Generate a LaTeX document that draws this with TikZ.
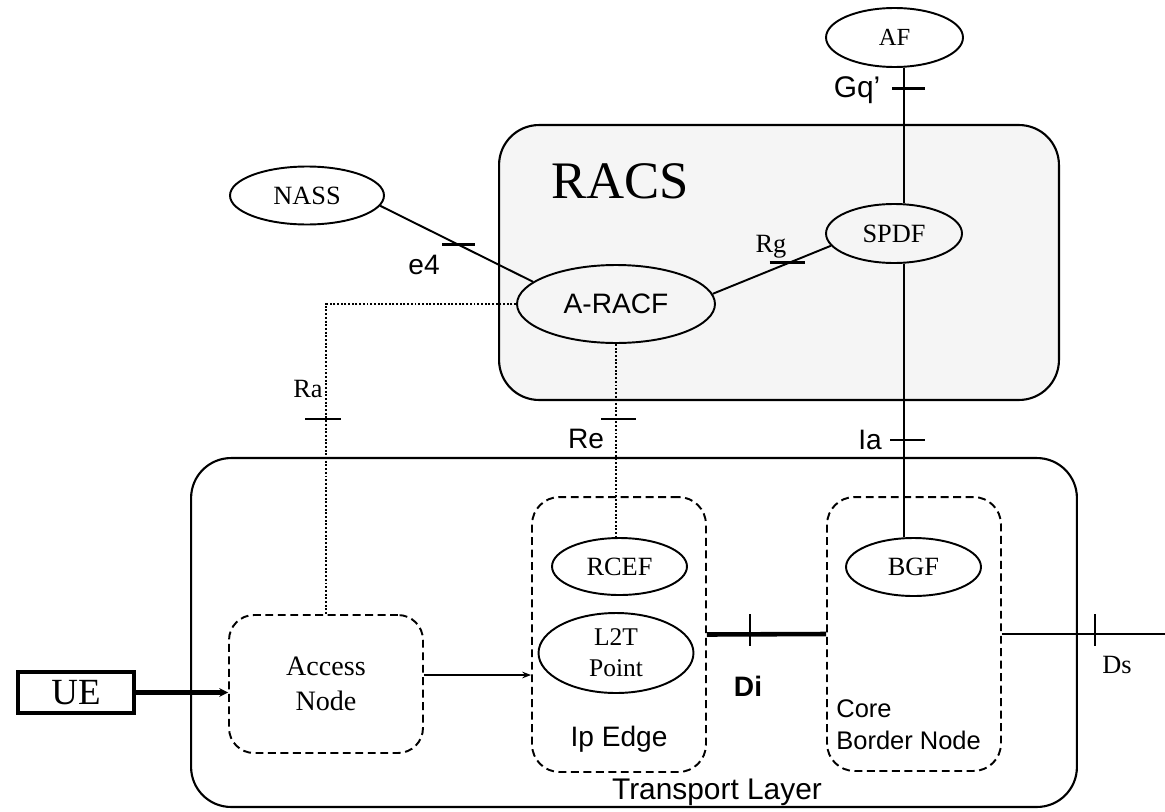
\documentclass[tikz,border=0pt]{standalone}
\usepackage{fontspec}
\setmainfont{Liberation Serif}
\setsansfont{Liberation Sans}
\usetikzlibrary{shapes.geometric, arrows.meta, positioning}
\begin{document}
\begin{tikzpicture}[x=0.02cm, y=-0.02cm,
    fn/.style={draw, ellipse, line width=1.1pt, inner sep=0pt, font=\fontsize{15}{17.5}\selectfont},
    area/.style={draw, rounded corners=0.8cm, line width=1.2pt, inner sep=0pt},
    part/.style={draw, dash pattern=on 4.5pt off 2.6pt, rounded corners=0.55cm, line width=1.1pt, inner sep=0pt},
    link/.style={line width=1.1pt},
    fat/.style={line width=2.6pt},
    ctrl/.style={densely dotted, line width=1.1pt},
    tickbar/.style={line width=1.3pt},
    lbl/.style={font=\sffamily\fontsize{16}{19}\selectfont, inner sep=0pt, text depth=0pt},
    slbl/.style={font=\fontsize{15}{18}\selectfont, inner sep=0pt, text depth=0pt}]
    \useasboundingbox (0,0) rectangle (1165,811);

    \node[area, minimum width=17.72cm, minimum height=6.98cm] (tl) at (634,632.5) {};
    \node[area, fill=black!4, minimum width=11.2cm, minimum height=5.5cm] (racs) at (779,262.5) {};
    \node[font=\fontsize{30}{36}\selectfont, inner sep=0pt] (racslbl) at (620,181) {RACS};

    \node[fn, minimum width=2.74cm, minimum height=1.18cm, font=\fontsize{14}{17}\selectfont] (af) at (894.5,37.5) {AF};
    \node[fn, minimum width=2.72cm, minimum height=1.18cm] (spdf) at (894,233.5) {SPDF};
    \node[fn, minimum width=3.08cm, minimum height=1.16cm] (nass) at (307,195.5) {NASS};
    \node[fn, minimum width=3.96cm, minimum height=1.56cm, font=\sffamily\fontsize{16}{19}\selectfont] (aracf) at (616,304) {A-RACF};

    \node[part, minimum width=3.48cm, minimum height=5.5cm] (ipe) at (619,634.5) {};
    \node[part, minimum width=3.48cm, minimum height=5.48cm] (cbn) at (914,634) {};
    \node[part, minimum width=3.88cm, minimum height=2.76cm, rounded corners=0.5cm, align=center, font=\fontsize{16}{20}\selectfont] (an) at (326,684) {Access\\Node};

    \node[fn, minimum width=2.7cm, minimum height=1.14cm] (rcef) at (619.5,566.5) {RCEF};
    \node[fn, minimum width=3.1cm, minimum height=1.6cm, align=center, font=\fontsize{14.5}{17.5}\selectfont] (l2t) at (616,653) {L2T\\Point};
    \node[fn, minimum width=2.7cm, minimum height=1.16cm] (bgf) at (913.5,567) {BGF};
    \node[draw, line width=2.2pt, minimum width=2.32cm, minimum height=0.82cm, inner sep=0pt, font=\fontsize{21}{24}\selectfont] (ue) at (76,692.5) {UE};

    \node[lbl] (ipelbl) at (619,736) {Ip Edge};
    \node[lbl, text depth=, align=left, anchor=west, font=\sffamily\fontsize{14.5}{18}\selectfont] (cbnlbl) at (836,725) {Core\\Border Node};
    \node[lbl, font=\sffamily\fontsize{17}{20}\selectfont] (tllbl) at (717,789) {Transport Layer};

    \draw[link] ([xshift=0.19cm]af.south) -- coordinate[pos=0.153] (gq) ([xshift=0.2cm]spdf.north);
    \draw[link] ([xshift=0.2cm]spdf.south) -- coordinate[pos=0.644] (ia) ([xshift=-0.19cm]bgf.north);
    \draw[link] (nass.-8) -- coordinate[pos=0.51] (e4) (aracf.165);
    \draw[link] (aracf.6) -- coordinate[pos=0.65] (rg) (spdf.191);
    \draw[ctrl] (aracf.west) -| coordinate[pos=0.685] (ra) (an.north);
    \draw[ctrl] (aracf.south) -- coordinate[pos=0.39] (re) (aracf.south |- rcef.north);
    \draw[fat, -{Stealth[length=5pt, width=5pt]}] (ue.east) -- (ue.east -| an.west);
    \draw[link, -{Stealth[length=5pt]}] ([yshift=0.18cm]an.east) -- ([yshift=0.18cm]an.east -| ipe.west);
    \draw[fat] (ipe.east) -- coordinate[pos=0.36] (di) (cbn.west);
    \coordinate (dsend) at (1165,634);
    \draw[link] (cbn.east) -- coordinate[pos=0.57] (ds) (dsend);

    \draw[tickbar] (gq) ++(-12,0) -- ++(33,0);
    \draw[tickbar] (ia) ++(-14,0) -- ++(35,0);
    \draw[tickbar] (ra) ++(-21,0) -- ++(36,0);
    \draw[tickbar] (re) ++(-15,0) -- ++(35,0);
    \draw[tickbar] (e4) ++(-16,0) -- ++(33,0);
    \draw[tickbar] (rg) ++(-20,0) -- ++(35,0);
    \draw[tickbar] (di) ++(0,-20) -- ++(0,32);
    \draw[tickbar] (ds) ++(0,-20) -- ++(0,32);

    \node[lbl, font=\sffamily\fontsize{17}{20}\selectfont] (gqlbl) at (857,87) {Gq'};
    \node[lbl] (ialbl) at (870,440) {Ia};
    \node[lbl] (e4lbl) at (424,265) {e4};
    \node[lbl] (relbl) at (586,439) {Re};
    \node[lbl, font=\sffamily\bfseries\fontsize{16}{19}\selectfont] (dilbl) at (748,686) {Di};
    \node[slbl] (rglbl) at (771,244) {Rg};
    \node[slbl] (ralbl) at (308,389) {Ra};
    \node[slbl] (dslbl) at (1117,665) {Ds};
\end{tikzpicture}
\end{document}
